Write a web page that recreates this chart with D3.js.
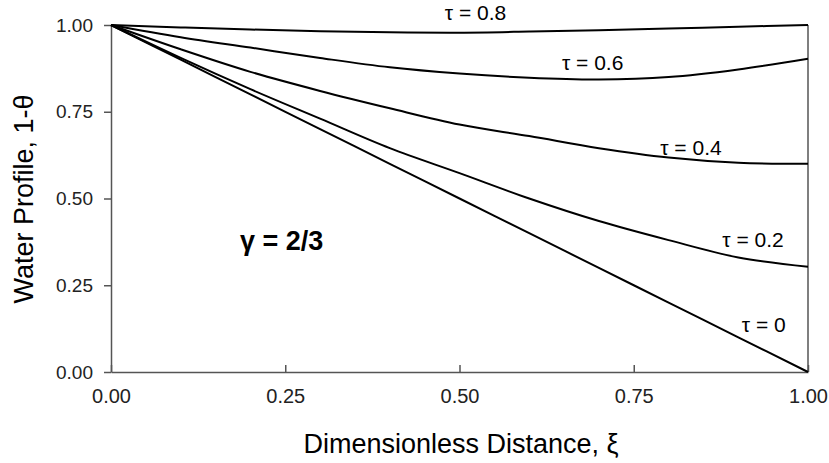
<!DOCTYPE html>
<meta charset="utf-8">
<head>
  <title>Water profile</title>
</head>
<style>
body { margin: 0; background: #fff; }
svg { font-family: Arial, "Liberation Sans", sans-serif; }
.curve { fill: none; stroke: #000; stroke-width: 2px; }
.axis path, .axis line { stroke: #555; stroke-width: 1.5px; }
.axis text { fill: #222; }
</style>
<body>
  <svg width="829" height="463"></svg>
  <script src="https://cdnjs.cloudflare.com/ajax/libs/d3/7.8.5/d3.min.js"></script>
  <script>
// dimensionless distance xi
var xi = [0, 0.1, 0.2, 0.3, 0.4, 0.5, 0.6, 0.7, 0.8, 0.9, 1.0];
// water profile 1-theta for each tau
var tau0  = [1.0, 0.9, 0.8, 0.7, 0.6, 0.5, 0.4, 0.3, 0.2, 0.1, 0.0];
var tau02 = [1.0, 0.905, 0.815, 0.73, 0.645, 0.573, 0.50, 0.435, 0.38, 0.33, 0.303];
var tau04 = [1.0, 0.93, 0.865, 0.81, 0.76, 0.713, 0.68, 0.645, 0.618, 0.603, 0.60];
var tau06 = [1.0, 0.965, 0.935, 0.905, 0.878, 0.86, 0.848, 0.843, 0.85, 0.872, 0.903];
var tau08 = [1.0, 0.993, 0.987, 0.982, 0.979, 0.978, 0.981, 0.985, 0.99, 0.995, 1.0];
var tauLabels = ["\u03c4 = 0", "\u03c4 = 0.2", "\u03c4 = 0.4", "\u03c4 = 0.6", "\u03c4 = 0.8"];
var ticks = [0, 0.25, 0.5, 0.75, 1.0];

var series = [tau0, tau02, tau04, tau06, tau08];

var svg = d3.select('svg');
var x = d3.scaleLinear().domain([0, 1]).range([111, 808]);
var y = d3.scaleLinear().domain([0, 1]).range([372, 25]);

// axes
svg.append('g')
  .attr('class', 'axis')
  .attr('transform', 'translate(0,372)')
  .call(d3.axisBottom(x).tickValues(ticks).tickFormat(d3.format('.2f'))
    .tickSizeInner(-7).tickSizeOuter(0).tickPadding(17))
  .call(function(g) { g.selectAll('text').style('font-size', '20px'); });

svg.append('g')
  .attr('class', 'axis')
  .attr('transform', 'translate(111,0)')
  .call(d3.axisLeft(y).tickValues(ticks).tickFormat(d3.format('.2f'))
    .tickSizeInner(7).tickSizeOuter(0).tickPadding(11))
  .call(function(g) { g.selectAll('text').style('font-size', '19px'); });

// right frame line
svg.append('line')
  .attr('x1', x(1)).attr('x2', x(1))
  .attr('y1', y(0)).attr('y2', y(1))
  .attr('stroke', '#555').attr('stroke-width', 1.5);

var line = d3.line()
  .x(function(d, i) { return x(xi[i]); })
  .y(function(d) { return y(d); })
  .curve(d3.curveCatmullRom.alpha(0.5));

svg.selectAll('path.curve')
  .data(series)
  .enter()
  .append('path')
  .classed('curve', true)
  .attr('d', line);

// curve labels (start x, baseline y in data units)
var labelPos = [[0.905, 0.115], [0.877, 0.36], [0.788, 0.625], [0.647, 0.87], [0.479, 1.0144]];
svg.selectAll('text.lab')
  .data(tauLabels)
  .enter()
  .append('text')
  .attr('class', 'lab')
  .attr('x', function(d, i) { return x(labelPos[i][0]); })
  .attr('y', function(d, i) { return y(labelPos[i][1]); })
  .style('font-size', '21px')
  .text(function(d) { return d; });

svg.append('text')
  .attr('x', 240).attr('y', 250)
  .style('font-size', '27px').style('font-weight', 'bold')
  .text('\u03b3 = 2/3');

svg.append('text')
  .attr('x', 461).attr('y', 453)
  .attr('text-anchor', 'middle')
  .style('font-size', '27px')
  .text('Dimensionless Distance, \u03be');

svg.append('text')
  .attr('transform', 'translate(33,199) rotate(-90)')
  .attr('text-anchor', 'middle')
  .style('font-size', '27px')
  .text('Water Profile, 1-\u03b8');
  </script>
</body>
</html>
